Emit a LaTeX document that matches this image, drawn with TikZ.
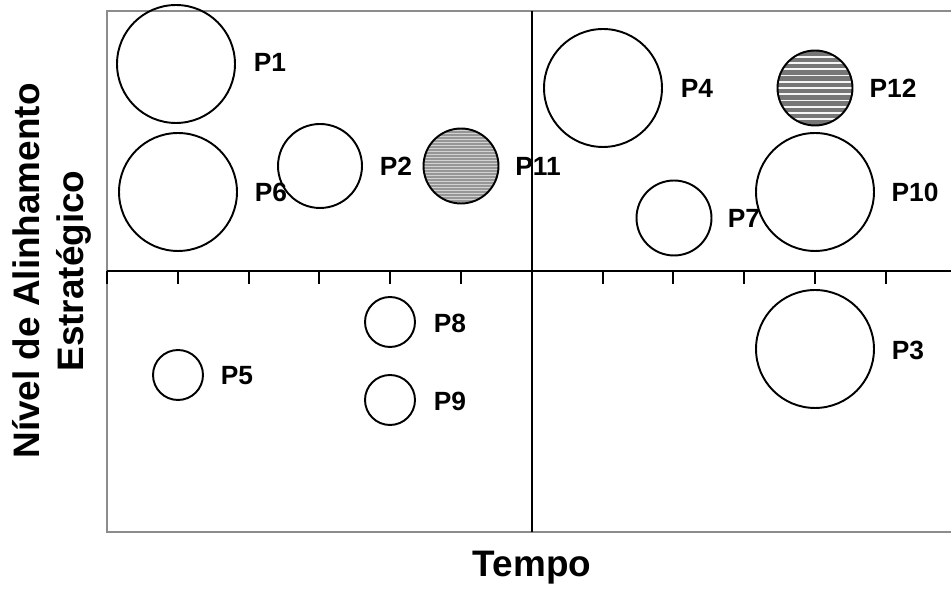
\documentclass[tikz,border=0pt]{standalone}
\usepackage{fontspec}
\setmainfont{Liberation Sans}
\usetikzlibrary{positioning}
\definecolor{framegray}{RGB}{140,140,140}
\definecolor{hatchdark}{RGB}{118,118,118}
\definecolor{hatchmid}{RGB}{150,150,150}

\begin{document}
\begin{tikzpicture}[
    x=0.02cm, y=-0.02cm,
    project/.style={draw, circle, line width=1.1pt, inner sep=0pt},
    big/.style={project, minimum size=2.36cm},
    medium/.style={project, minimum size=1.68cm},
    small/.style={project, minimum size=1.5cm},
    tiny/.style={project, minimum size=1.0cm},
    finehatch/.style={path picture={
        \fill[hatchmid] (path picture bounding box.south west) rectangle (path picture bounding box.north east);
        \foreach \k in {-25,...,25}
            \draw[line width=0.4pt, gray!35] ([yshift=\k*0.06cm]path picture bounding box.west) -- ([yshift=\k*0.06cm]path picture bounding box.east);
    }},
    coarsehatch/.style={path picture={
        \fill[hatchdark] (path picture bounding box.south west) rectangle (path picture bounding box.north east);
        \foreach \k in {-12,...,12}
            \draw[line width=0.9pt, white!92!gray] ([yshift=\k*0.125cm]path picture bounding box.west) -- ([yshift=\k*0.125cm]path picture bounding box.east);
    }},
    plabel/.style={font=\fontsize{15}{17}\selectfont\bfseries},
    axislabel/.style={font=\fontsize{21}{25}\selectfont\bfseries},
    axis/.style={line width=1.2pt},
    framestyle/.style={framegray, line width=1.2pt}
]
    \useasboundingbox (0,0) rectangle (951,590);

    % Frame and axes
    \coordinate (tl) at (107,11);
    \coordinate (bl) at (107,532);
    \coordinate (tr) at (951,11);
    \coordinate (br) at (951,532);
    \coordinate (xleft) at (107,271);
    \coordinate (xright) at (951,271);
    \coordinate (ytop) at (532,11);
    \coordinate (ybottom) at (532,532);
    \draw[framestyle] (tr) -- (tl) -- (bl) -- (br);
    \draw[axis] (xleft) -- (xright);
    \draw[axis] (ytop) -- (ybottom);
    \foreach \i in {0,...,11}
        \draw[axis] (107+70.8*\i,271) -- ++(0,13);

    % Projects
    \node[big] (p1) at (176,64) {};
    \node[plabel] (l1) at (270,62) {P1};
    \node[big] (p6) at (178,192) {};
    \node[plabel] (l6) at (271,192) {P6};
    \node[medium] (p2) at (320,166) {};
    \node[plabel] (l2) at (396,166) {P2};
    \node[small, finehatch] (p11) at (461,166) {};
    \node[plabel] (l11) at (538,166) {P11};
    \node[big] (p4) at (603,88) {};
    \node[plabel] (l4) at (697,88) {P4};
    \node[small, coarsehatch] (p12) at (815,88) {};
    \node[plabel] (l12) at (893,88) {P12};
    \node[big] (p10) at (815,192) {};
    \node[plabel] (l10) at (915,192) {P10};
    \node[small] (p7) at (674,218) {};
    \node[plabel] (l7) at (744,218) {P7};
    \node[big] (p3) at (815,349) {};
    \node[plabel] (l3) at (908,350) {P3};
    \node[tiny] (p8) at (390,322) {};
    \node[plabel] (l8) at (450,323) {P8};
    \node[tiny] (p9) at (390,400) {};
    \node[plabel] (l9) at (450,401) {P9};
    \node[tiny] (p5) at (178,375) {};
    \node[plabel] (l5) at (237,376) {P5};

    % Axis labels
    \node[axislabel, rotate=90, align=center] (ylab) at (52,271) {Nível de Alinhamento\\Estratégico};
    \node[axislabel, anchor=base] (xlab) at (532,577) {Tempo};
\end{tikzpicture}
\end{document}
